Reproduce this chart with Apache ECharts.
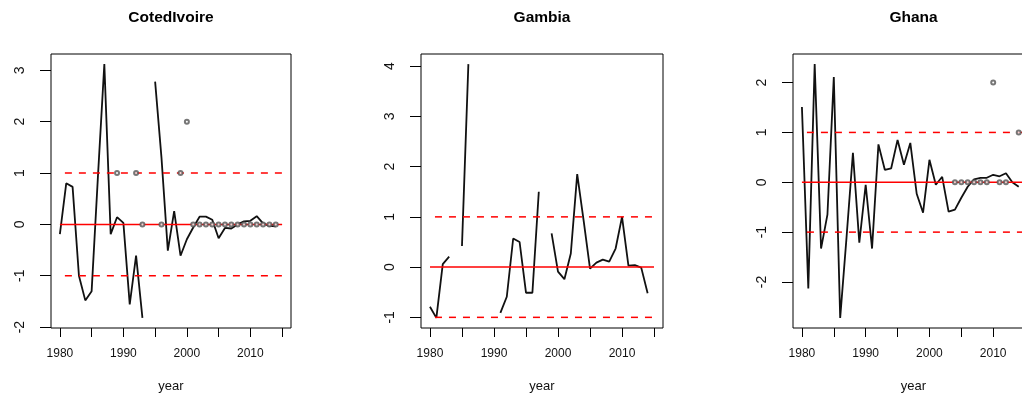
<!DOCTYPE html>
<html>
<head>
<meta charset="utf-8">
<script src="https://cdn.jsdelivr.net/npm/echarts@6/dist/echarts.min.js"></script>
<style>
  html, body { margin: 0; padding: 0; background: #ffffff; }
  #chart { width: 1022px; height: 394px; }
</style>
</head>
<body>
<div id="chart"></div>
<script>
// Years observed in each series
const years = [1980, 1981, 1982, 1983, 1984, 1985, 1986, 1987, 1988, 1989,
               1990, 1991, 1992, 1993, 1994, 1995, 1996, 1997, 1998, 1999,
               2000, 2001, 2002, 2003, 2004, 2005, 2006, 2007, 2008, 2009,
               2010, 2011, 2012, 2013, 2014];

// Full span of the year axis (last year has no observation)
const yearSpan = [1980, 2015];

// Côte d'Ivoire
const coteLine = [-0.19, 0.80, 0.73, -1.00, -1.48, -1.30, 0.95, 3.12, -0.19, 0.14,
                  0.03, -1.56, -0.61, -1.82, null, 2.78, 1.30, -0.51, 0.26, -0.61,
                  -0.29, -0.06, 0.15, 0.15, 0.09, -0.27, -0.07, -0.08, 0.00, 0.06,
                  0.07, 0.16, 0.02, -0.03, -0.04];
const coteDots = [null, null, null, null, null, null, null, null, null, 1,
                  null, null, 1, 0, null, null, 0, null, null, 1,
                  2, 0, 0, 0, 0, 0, 0, 0, 0, 0,
                  0, 0, 0, 0, 0];

// Gambia
const gambiaLine = [-0.79, -1.01, 0.06, 0.21, null, 0.42, 4.04, null, null, null,
                    null, -0.91, -0.59, 0.57, 0.50, -0.51, -0.51, 1.50, null, 0.67,
                    -0.09, -0.24, 0.27, 1.85, 0.93, -0.03, 0.09, 0.15, 0.11, 0.37,
                    1.00, 0.03, 0.04, -0.01, -0.52];
const gambiaDots = [];

// Ghana
const ghanaLine = [1.51, -2.13, 2.37, -1.33, -0.65, 2.11, -2.72, -1.10, 0.59, -1.21,
                   -0.05, -1.33, 0.76, 0.25, 0.28, 0.85, 0.35, 0.79, -0.23, -0.61,
                   0.45, -0.05, 0.11, -0.59, -0.55, -0.31, -0.09, 0.06, 0.09, 0.09,
                   0.15, 0.12, 0.18, 0.00, -0.09];
const ghanaDots = [null, null, null, null, null, null, null, null, null, null,
                   null, null, null, null, null, null, null, null, null, null,
                   null, null, null, null, 0, 0, 0, 0, 0, 0,
                   2, 0, 0, null, 1];

// Horizontal reference levels
const centreLevel = 0;
const bandLevels = [-1, 1];

// Tick positions and labels
const xTicks = [1980, 1985, 1990, 1995, 2000, 2005, 2010, 2015];
const xLabels = [1980, 1990, 2000, 2010];
const coteTicks = [-2, -1, 0, 1, 2, 3];
const gambiaTicks = [-1, 0, 1, 2, 3, 4];
const ghanaTicks = [-2, -1, 0, 1, 2];

const titles = ['CotedIvoire', 'Gambia', 'Ghana'];

const panels = [
  { title: titles[0], line: coteLine, dots: coteDots, ticks: coteTicks },
  { title: titles[1], line: gambiaLine, dots: gambiaDots, ticks: gambiaTicks },
  { title: titles[2], line: ghanaLine, dots: ghanaDots, ticks: ghanaTicks }
];

// Plot-region geometry for the three panels
const layout = [
  { left: 51, width: 240 },
  { left: 421, width: 242 },
  { left: 793, width: 241 }
];
const plotTop = 54;
const plotHeight = 274;

const FONT = '"Liberation Sans", Arial, Helvetica, sans-serif';

// R-style range: data extent widened by 4% on each side
function paddedRange(values) {
  const v = values.filter(d => d !== null);
  const lo = Math.min(...v), hi = Math.max(...v);
  const pad = 0.04 * (hi - lo);
  return [lo - pad, hi + pad];
}
const xRange = paddedRange(yearSpan);

const grids = [], xAxes = [], yAxes = [], series = [], graphics = [];

panels.forEach((p, i) => {
  const g = layout[i];
  grids.push({
    left: g.left, top: plotTop, width: g.width, height: plotHeight,
    outerBoundsMode: 'none', containLabel: false,
    show: true, borderColor: '#000', borderWidth: 1, backgroundColor: 'transparent'
  });

  xAxes.push({
    type: 'value', gridIndex: i, position: 'bottom', min: xRange[0], max: xRange[1],
    name: 'year', nameLocation: 'middle', nameGap: 52,
    nameTextStyle: { fontFamily: FONT, fontSize: 13, color: '#111' },
    axisLine: { show: false, onZero: false },
    axisTick: { show: true, length: 9, customValues: xTicks, lineStyle: { color: '#000', width: 1 } },
    axisLabel: {
      show: true, customValues: xLabels, margin: 20,
      formatter: v => String(v),
      fontFamily: FONT, fontSize: 12, color: '#111'
    },
    splitLine: { show: false }
  });

  const yr = paddedRange(p.line);
  yAxes.push({
    type: 'value', gridIndex: i, position: 'left', min: yr[0], max: yr[1],
    axisLine: { show: false, onZero: false },
    axisTick: { show: true, length: 11, customValues: p.ticks, lineStyle: { color: '#000', width: 1 } },
    axisLabel: {
      show: true, customValues: p.ticks, rotate: 90, margin: 24,
      formatter: v => String(v),
      fontFamily: FONT, fontSize: 14, color: '#111'
    },
    splitLine: { show: false }
  });

  // the series itself
  series.push({
    type: 'line', xAxisIndex: i, yAxisIndex: i,
    data: years.map((y, k) => [y, p.line[k]]),
    showSymbol: false, symbol: 'none', connectNulls: false,
    lineStyle: { color: '#111', width: 1.8 },
    z: 2, silent: true
  });

  // solid centre line and dashed band lines
  series.push({
    type: 'line', xAxisIndex: i, yAxisIndex: i,
    data: yearSpan.map(y => [y, centreLevel]),
    showSymbol: false, symbol: 'none',
    lineStyle: { color: '#ff0000', width: 1.5 },
    z: 3, silent: true
  });
  bandLevels.forEach(level => {
    series.push({
      type: 'line', xAxisIndex: i, yAxisIndex: i,
      data: yearSpan.map(y => [y, level]),
      showSymbol: false, symbol: 'none',
      lineStyle: { color: '#ff0000', width: 1.5, type: [7, 7], dashOffset: 9 },
      z: 3, silent: true
    });
  });

  // open circles
  const pts = [];
  p.dots.forEach((d, k) => { if (d !== null && d !== undefined) pts.push([years[k], d]); });
  if (pts.length) {
    series.push({
      type: 'scatter', xAxisIndex: i, yAxisIndex: i, data: pts,
      symbol: 'emptyCircle', symbolSize: 4,
      itemStyle: { color: '#555', borderColor: '#555', borderWidth: 0.8 },
      z: 4, silent: true
    });
  }

  graphics.push({
    type: 'text', x: g.left + g.width / 2, y: 18,
    style: {
      text: p.title, fill: '#000',
      fontFamily: FONT, fontSize: 15.5, fontWeight: 'bold',
      align: 'center', verticalAlign: 'middle',
      textAlign: 'center', textVerticalAlign: 'middle'
    }
  });
});

const chart = echarts.init(document.getElementById('chart'));
chart.setOption({
  animation: false,
  backgroundColor: '#ffffff',
  grid: grids,
  xAxis: xAxes,
  yAxis: yAxes,
  series: series,
  graphic: graphics
});
</script>
</body>
</html>
